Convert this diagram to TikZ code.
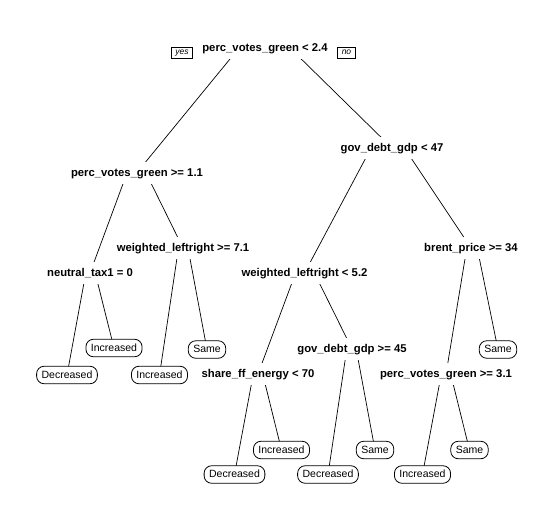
\documentclass[tikz,border=0pt]{standalone}
\usepackage{fontspec}
\setmainfont{Liberation Sans}
\usetikzlibrary{calc,backgrounds}

% branch from parent P to children L and R (rpart-style: starts beside the parent centre)
\newcommand\treebranch[3]{%
  \draw[branchline] let \p1=($(#2)!0.4!(#3)$), \p2=($(#2)!0.6!(#3)$), \p3=(#1)
    in (\x1,\y3) -- (#2.center) (\x2,\y3) -- (#3.center);}

\begin{document}
\begin{tikzpicture}[x=1pt,y=-1pt,
  splitnode/.style={fill=white, font=\fontsize{11.3}{13}\selectfont\bfseries,
    inner xsep=2pt, inner ysep=5.5pt, text height=9pt, text depth=2pt},
  leafnode/.style={draw, line width=0.8pt, fill=white, rounded corners=7.5pt,
    font=\fontsize{10.5}{12}\selectfont, inner xsep=5pt, inner ysep=0pt,
    minimum height=17.5pt, text height=8pt, text depth=2pt},
  dirnode/.style={draw, line width=0.6pt, fill=white, font=\fontsize{8.5}{10}\selectfont\itshape,
    inner xsep=4pt, inner ysep=0pt, minimum height=11pt, text height=6pt, text depth=1.5pt},
  branchline/.style={line width=0.7pt}
]
\useasboundingbox (0,0) rectangle (558,520);

% split labels
\node[splitnode] (n1)  at (265,48)    {perc\_votes\_green < 2.4};
\node[splitnode] (n2)  at (137,172.5) {perc\_votes\_green >= 1.1};
\node[splitnode] (n3)  at (392,148)   {gov\_debt\_gdp < 47};
\node[splitnode] (n4)  at (90,273)    {neutral\_tax1 = 0};
\node[splitnode] (n5)  at (183,248)   {weighted\_leftright >= 7.1};
\node[splitnode] (n6)  at (304.5,273) {weighted\_leftright < 5.2};
\node[splitnode] (n7)  at (471,248)   {brent\_price >= 34};
\node[splitnode] (n12) at (258,374)   {share\_ff\_energy < 70};
\node[splitnode] (n13) at (352,349)   {gov\_debt\_gdp >= 45};
\node[splitnode] (n15) at (446,374)   {perc\_votes\_green >= 3.1};

% leaves
\node[leafnode] (l8)  at (67,375)      {Decreased};
\node[leafnode] (l9)  at (114,348)     {Increased};
\node[leafnode] (l10) at (159.5,375)   {Increased};
\node[leafnode] (l11) at (207,349.5)   {Same};
\node[leafnode] (l14) at (498,349.5)   {Same};
\node[leafnode] (l24) at (234.5,474.5) {Decreased};
\node[leafnode] (l25) at (281.5,450)   {Increased};
\node[leafnode] (l26) at (328,474.5)   {Decreased};
\node[leafnode] (l27) at (375,450)     {Same};
\node[leafnode] (l30) at (422.5,474.5) {Increased};
\node[leafnode] (l31) at (469.5,450)   {Same};

% yes / no tags at the root
\node[dirnode] (yes) at (182,52.5)   {yes};
\node[dirnode] (no)  at (346.5,52.5) {no};

% white page, then the branches underneath the labels
\begin{scope}[on background layer]
  \fill[white] (0,0) rectangle (558,520);
  \treebranch{n1}{n2}{n3}
  \treebranch{n2}{n4}{n5}
  \treebranch{n3}{n6}{n7}
  \treebranch{n4}{l8}{l9}
  \treebranch{n5}{l10}{l11}
  \treebranch{n6}{n12}{n13}
  \treebranch{n7}{n15}{l14}
  \treebranch{n12}{l24}{l25}
  \treebranch{n13}{l26}{l27}
  \treebranch{n15}{l30}{l31}
\end{scope}
\end{tikzpicture}
\end{document}
